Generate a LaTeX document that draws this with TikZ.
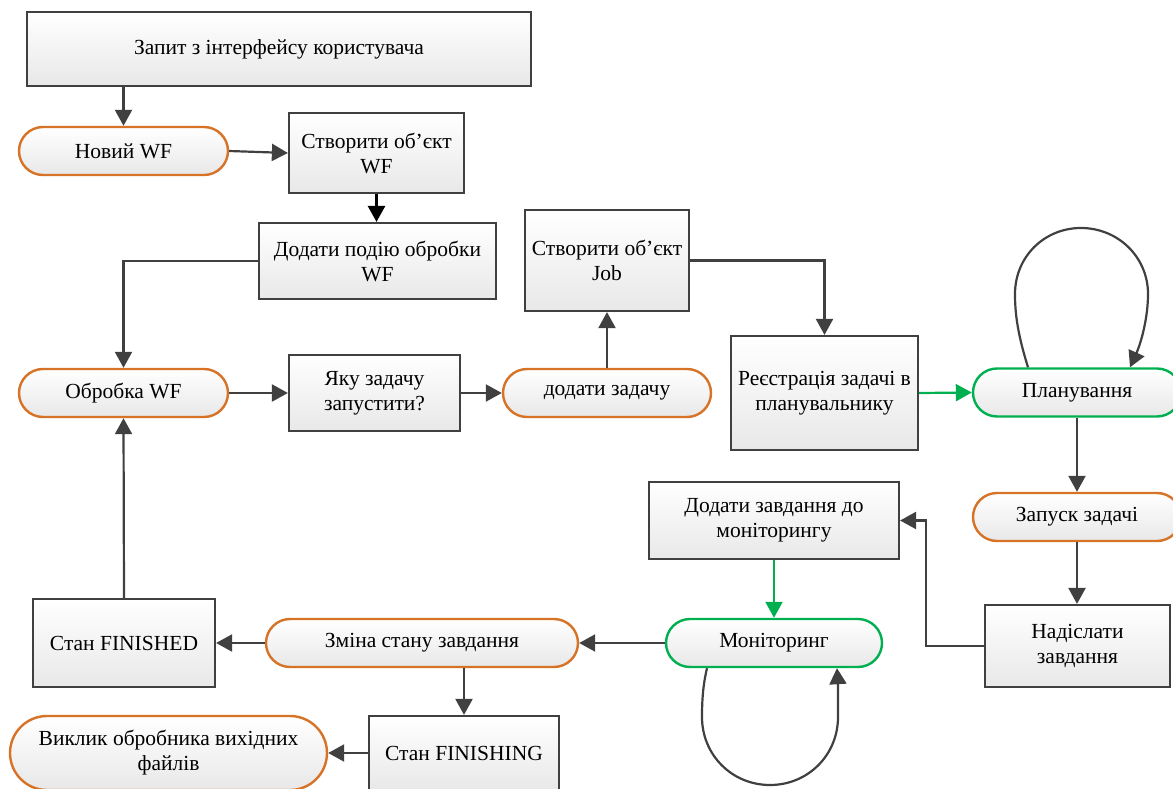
\documentclass[tikz,border=0pt]{standalone}
\usepackage{fontspec}
\setmainfont{Liberation Serif}
\usetikzlibrary{arrows.meta}
\definecolor{edgegray}{RGB}{64,64,64}
\definecolor{orangeb}{RGB}{214,115,38}
\definecolor{greenb}{RGB}{0,176,80}
\definecolor{fillbot}{RGB}{232,232,232}
\tikzset{
  base/.style={draw=edgegray, line width=2.2pt, top color=white, bottom color=fillbot,
    align=center, font=\fontsize{21.5}{25}\selectfont, inner sep=0pt},
  boxn/.style={base, rectangle},
  stad/.style={base, draw=orangeb, line width=2.4pt, rounded corners=24pt},
  gstad/.style={stad, draw=greenb},
  arr/.style={draw=edgegray, line width=2.2pt, -{Triangle[length=16pt,width=17pt]}},
  garr/.style={arr, draw=greenb},
  barr/.style={arr, draw=black, line width=2.8pt},
}
\begin{document}
\begin{tikzpicture}[x=1pt,y=-1pt]
\useasboundingbox (0,0) rectangle (1173,789);
\clip (0,0) rectangle (1173,789);
% nodes
\node[boxn, minimum width=504pt, minimum height=74pt] (zapyt) at (279,49) {Запит з інтерфейсу користувача};
\node[stad, minimum width=209pt, minimum height=48pt] (novyi) at (123.5,151) {Новий WF};
\node[boxn, minimum width=175pt, minimum height=80pt] (stvor) at (376.5,153) {Створити об’єкт\\WF};
\node[boxn, minimum width=237pt, minimum height=76pt] (dodaty) at (377.5,261) {Додати подію обробки\\WF};
\node[stad, minimum width=209pt, minimum height=48pt] (obrobka) at (123.5,393) {Обробка WF};
\node[boxn, minimum width=171pt, minimum height=76pt] (yaku) at (374.5,393) {Яку задачу\\запустити?};
\node[stad, minimum width=208pt, minimum height=48pt] (dodzad) at (607,393) {додати задачу};
\node[boxn, minimum width=164pt, minimum height=101pt] (job) at (607,260.5) {Створити об’єкт\\Job};
\node[boxn, minimum width=187pt, minimum height=114pt] (reestr) at (824.5,393) {Реєстрація задачі в\\планувальнику};
\node[gstad, minimum width=208pt, minimum height=48pt] (plan) at (1077,392.5) {Планування};
\node[stad, minimum width=208pt, minimum height=48pt] (zapusk) at (1077,517) {Запуск задачі};
\node[boxn, minimum width=185pt, minimum height=82pt] (nadisl) at (1077.5,646) {Надіслати\\завдання};
\node[boxn, minimum width=250pt, minimum height=77pt] (dodzav) at (774,520.5) {Додати завдання до\\моніторингу};
\node[gstad, minimum width=216pt, minimum height=48pt] (monit) at (774,643) {Моніторинг};
\node[stad, minimum width=312pt, minimum height=48pt] (zmina) at (422,643) {Зміна стану завдання};
\node[boxn, minimum width=182pt, minimum height=88pt] (fin) at (124,643) {Стан FINISHED};
\node[boxn, minimum width=190pt, minimum height=74pt] (finishing) at (464,753) {Стан FINISHING};
\node[stad, rounded corners=37pt, minimum width=317pt, minimum height=74pt] (vyklyk) at (168.5,753) {Виклик обробника вихідних\\файлів};
% connectors
\draw[arr] (zapyt.south -| novyi.north) -- (novyi.north);
\draw[arr] (novyi.east) -- (stvor.west);
\draw[barr] (stvor.south) -- (dodaty.north -| stvor.south);
\draw[arr] (dodaty.west) -| (obrobka.north);
\draw[arr] (obrobka.east) -- (yaku.west);
\draw[arr] (yaku.east) -- (dodzad.west);
\draw[arr] (dodzad.north) -- (job.south);
\draw[arr] (job.east) -| (reestr.north);
\draw[garr] (reestr.east) -- (plan.west);
\draw[arr] ([xshift=-49pt]plan.north) .. controls (1018,335) and (1015,315) .. (1015,294)
  .. controls (1015,257) and (1044,228) .. (1081,228)
  .. controls (1118,228) and (1148,257) .. (1148,294)
  .. controls (1148,318) and (1141,343) .. ([xshift=53pt]plan.north);
\draw[arr] (plan.south) -- (zapusk.north);
\draw[arr] (zapusk.south) -- (nadisl.north -| zapusk.south);
\draw[arr] (nadisl.west) -- ++(-58,0) |- (dodzav.east);
\draw[garr] (dodzav.south) -- (monit.north);
\draw[arr] ([xshift=-67pt]monit.south) .. controls (703,685) and (702,700) .. (702,717)
  .. controls (702,755) and (732,785) .. (770,785)
  .. controls (808,785) and (838,755) .. (838,717)
  .. controls (838,700) and (838,685) .. ([xshift=63pt]monit.south);
\draw[arr] (monit.west) -- (zmina.east);
\draw[arr] (zmina.west) -- (fin.east);
\draw[arr] (zmina.south -| finishing.north) -- (finishing.north);
\draw[arr] (finishing.west) -- (vyklyk.east);
\draw[arr] (fin.north) -- (obrobka.south);
\end{tikzpicture}
\end{document}
